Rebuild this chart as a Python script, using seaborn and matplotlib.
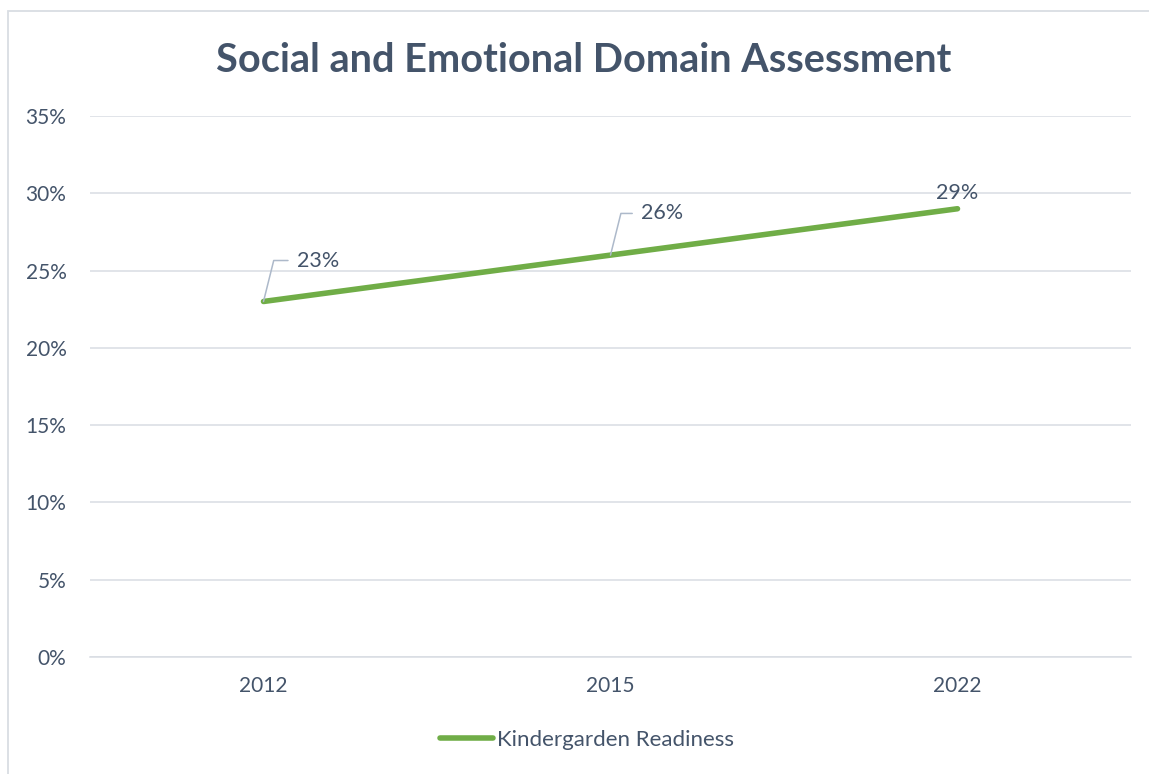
import matplotlib
matplotlib.use("Agg")
import matplotlib.pyplot as plt
import seaborn as sns
import pandas as pd
from matplotlib.patches import Rectangle
from matplotlib.ticker import PercentFormatter, FixedLocator

years = ["2012", "2015", "2022"]
readiness = [0.23, 0.26, 0.29]
series_name = "Kindergarden Readiness"
title = "Social and Emotional Domain Assessment"

sns.set_theme(style="white")
plt.rcParams["font.family"] = ["Lato", "DejaVu Sans"]

TEXT = "#44546A"
GRID = "#D9DDE3"
GREEN = "#70AD47"

fig = plt.figure(figsize=(11.49, 7.74), dpi=100)
ax = fig.add_axes([90/1149, 1-657/774, (1131-90)/1149, (657-116)/774])

df = pd.DataFrame({"Year": years, "Value": readiness})
sns.lineplot(data=df, x="Year", y="Value", ax=ax, color=GREEN, linewidth=4,
             solid_capstyle="round", label=series_name, legend=False)

ax.set_xlim(-0.5, len(years) - 0.5)
ax.set_ylim(0, 0.35)
ax.yaxis.set_major_locator(FixedLocator([i * 0.05 for i in range(8)]))
ax.yaxis.set_major_formatter(PercentFormatter(1.0, decimals=0))
ax.grid(axis="y", color=GRID, linewidth=1.1)
ax.grid(axis="x", visible=False)
for s in ["top", "right", "left"]:
    ax.spines[s].set_visible(False)
ax.spines["bottom"].set_color(GRID)
ax.spines["bottom"].set_linewidth(1.1)
ax.set_xlabel("")
ax.set_ylabel("")
ax.set_xticks(range(len(years)))
ax.set_xticklabels(years)
ax.set_xticks([i - 0.5 for i in range(len(years) + 1)], minor=True)
ax.tick_params(axis="x", which="major", length=0, pad=14, labelsize=15, labelcolor=TEXT)
ax.tick_params(axis="x", which="minor", length=5, width=1.1, color=GRID, direction="out")
ax.tick_params(axis="y", length=0, pad=17, labelsize=15, labelcolor=TEXT)

# data labels
offsets = [(24, 29.5, "left", True), (22, 30, "left", True), (0, 11.5, "center", False)]
for i, v in enumerate(readiness):
    dx, dy, ha, leader = offsets[i]
    kw = {}
    if leader:
        kw["arrowprops"] = dict(arrowstyle="-", color="#ADB9CA", lw=1.1,
                                connectionstyle="angle,angleA=0,angleB=76,rad=0",
                                relpos=(0, 0.5), shrinkA=4, shrinkB=0)
    ax.annotate(f"{v*100:.0f}%", xy=(i, v), xytext=(dx, dy), textcoords="offset points",
                ha=ha, va="center", fontsize=15.5, color=TEXT, **kw)

fig.text(584/1149, 1-60/774, title, ha="center", va="center", fontsize=28.5,
         fontweight="bold", color=TEXT)

handles, labels = ax.get_legend_handles_labels()
leg = fig.legend(handles, labels, loc="center", bbox_to_anchor=(587/1149, 1-740/774),
                 frameon=False, fontsize=16, handlelength=2.4, handletextpad=0.15)
for t in leg.get_texts():
    t.set_color(TEXT)
for h in leg.legend_handles:
    h.set_solid_capstyle("round")

fig.patches.append(Rectangle((8/1149, -0.1), 2, 1 + 0.1 - 11/774, transform=fig.transFigure,
                             fill=False, edgecolor=GRID, linewidth=1.3))

fig.savefig("out.png", dpi=100)
